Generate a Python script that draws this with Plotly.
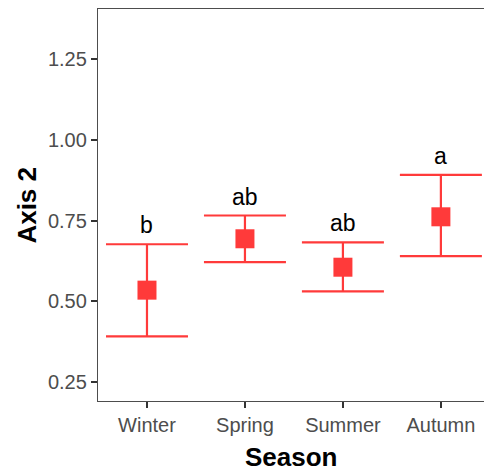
import plotly.graph_objects as go

seasons = ["Winter", "Spring", "Summer", "Autumn"]
means = [0.535, 0.694, 0.606, 0.762]
upper = [0.677, 0.766, 0.683, 0.892]
lower = [0.392, 0.622, 0.531, 0.640]
letters = ["b", "ab", "ab", "a"]
yticks = [0.25, 0.50, 0.75, 1.00, 1.25]

red = "#FF3A3A"
x = list(range(len(seasons)))

fig = go.Figure()
fig.add_trace(go.Scatter(
    x=x, y=means, mode="markers",
    marker=dict(symbol="square", size=19, color=red),
    error_y=dict(type="data", symmetric=False,
                 array=[u - m for u, m in zip(upper, means)],
                 arrayminus=[m - l for m, l in zip(means, lower)],
                 color=red, thickness=2.2, width=41),
    showlegend=False,
))

for xi, u, t in zip(x, upper, letters):
    fig.add_annotation(x=xi, y=u, text=t, showarrow=False, yanchor="bottom",
                       yshift=4, font=dict(family="Liberation Sans, Arial", size=23, color="black"))

fig.add_annotation(xref="paper", yref="paper", x=-0.185, y=0.5, text="<b>Axis 2</b>",
                   textangle=-90, showarrow=False, xanchor="center", yanchor="middle",
                   font=dict(family="Liberation Sans, Arial", size=26, color="black"))
fig.add_annotation(xref="paper", yref="paper", x=0.5, y=-0.143, text="<b>Season</b>",
                   showarrow=False, xanchor="center", yanchor="middle",
                   font=dict(family="Liberation Sans, Arial", size=26, color="black"))

fig.update_layout(
    width=484, height=473,
    margin=dict(l=98, r=0, t=9, b=72),
    plot_bgcolor="white", paper_bgcolor="white",
    font=dict(family="Liberation Sans, Arial", size=20, color="#4D4D4D"),
)
fig.update_xaxes(
    range=[-0.5, 3.44], tickmode="array", tickvals=x, ticktext=seasons,
    showgrid=False, zeroline=False, showline=True, linecolor="#4D4D4D", linewidth=1.3,
    mirror=True, ticks="outside", ticklen=6, tickwidth=2, tickcolor="#333333",
    tickfont=dict(size=20, color="#4D4D4D"),
)
fig.update_yaxes(
    range=[0.192, 1.405], tickmode="array", tickvals=yticks,
    ticktext=[f"{v:.2f}" for v in yticks],
    showgrid=False, zeroline=False, showline=True, linecolor="#4D4D4D", linewidth=1.3,
    ticks="outside", ticklen=6, tickwidth=2, tickcolor="#333333",
    tickfont=dict(size=20, color="#4D4D4D"),
)

fig.write_html("out.html")
